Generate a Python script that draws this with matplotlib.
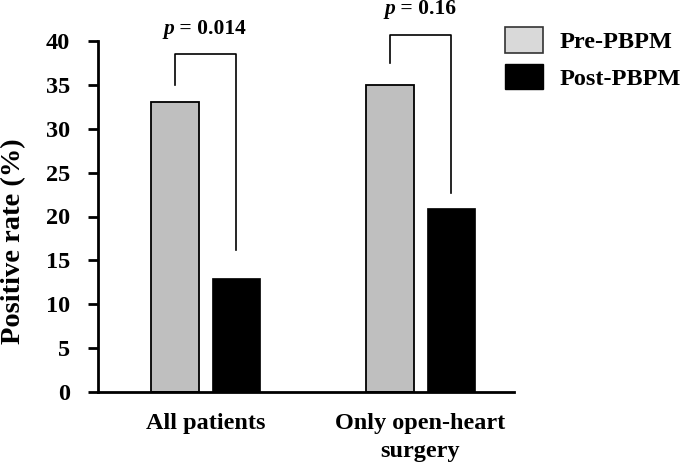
import matplotlib
matplotlib.use("Agg")
import matplotlib.pyplot as plt
import numpy as np
from matplotlib.patches import Patch

categories = ["All patients", "Only open-heart\nsurgery"]
pre_values = [33, 35]
post_values = [13, 21]
series_names = ["Pre-PBPM", "Post-PBPM"]
p_labels = ["0.014", "0.16"]
yticks = [0, 5, 10, 15, 20, 25, 30, 35, 40]

plt.rcParams['font.family'] = ['Liberation Serif', 'DejaVu Serif']
plt.rcParams['font.weight'] = 'bold'

fig = plt.figure(figsize=(6.83, 4.63), dpi=100)
ax = fig.add_axes([98/683, 1-392/463, (514-98)/683, (392-41)/463])

x = np.arange(len(categories))
w = 0.225
off = 0.142
ax.bar(x - off, pre_values, w, color='#bfbfbf', edgecolor='black', linewidth=1.3, zorder=2)
ax.bar(x + off, post_values, w, color='black', edgecolor='black', linewidth=0.5, zorder=2)

ax.set_xlim(-0.5, 1.435)
ax.set_ylim(0, 40)
ax.set_yticks(yticks)
ax.set_xticks(x)
ax.set_xticklabels(categories, fontsize=17.5, fontweight='bold', linespacing=1.45)
ax.tick_params(axis='x', length=0, pad=15)
ax.tick_params(axis='y', length=7, width=2, direction='out', labelsize=17.5, pad=13)
for lab in ax.get_yticklabels():
    lab.set_fontweight('bold')
ax.spines['top'].set_visible(False)
ax.spines['right'].set_visible(False)
ax.spines['left'].set_linewidth(2)
ax.spines['bottom'].set_linewidth(2)
fig.text(14/683, 1-241/463, "Positive rate (%)", fontsize=20.5, fontweight='bold',
         rotation=90, ha='center', va='center')

# significance brackets
brackets = [(35.0, 16.2, 38.5, 41.4), (37.5, 22.7, 40.7, 43.6)]
p_offsets = [0.147, 0.118]
for i, (lb, rb, top, ty) in enumerate(brackets):
    xl, xr = x[i] - off, x[i] + off
    ax.plot([xl, xl, xr, xr], [lb, top, top, rb], color='black', lw=1.2, clip_on=False)
    ax.text(x[i] - p_offsets[i], ty, "p", fontstyle='italic', fontweight='bold', fontsize=15.5,
            ha='right', va='center')
    ax.text(x[i] - p_offsets[i], ty, " = " + p_labels[i], fontweight='bold', fontsize=15.5,
            ha='left', va='center')

handles = [Patch(facecolor='#d9d9d9', edgecolor='#333333', linewidth=1.2),
           Patch(facecolor='black', edgecolor='black')]
fig.legend(handles, series_names, loc='upper left', bbox_to_anchor=(498/683, 1-20/463),
           frameon=False, prop={'size': 17.5, 'weight': 'bold'},
           handlelength=1.55, handleheight=1.25, handletextpad=0.7, labelspacing=0.42,
           borderaxespad=0, borderpad=0.3)

fig.savefig("out.png", dpi=100)
